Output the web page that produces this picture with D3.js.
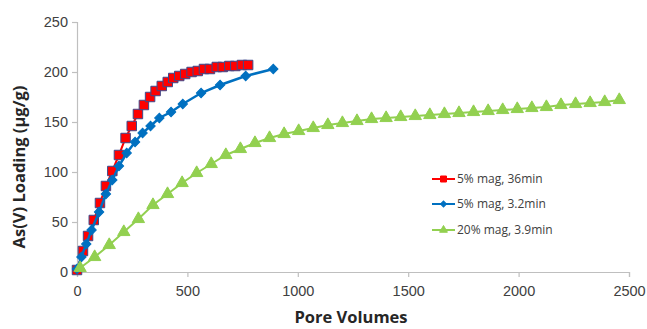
<!DOCTYPE html>
<html>
<head>
<meta charset="utf-8">
<script src="https://cdn.jsdelivr.net/npm/d3@7"></script>
<style>
  body { margin: 0; background: #fff; }
  svg { display: block; font-family: "Open Sans", sans-serif; }
</style>
</head>
<body>
<svg id="chart"></svg>
<script>
// data
var redX = [0, 27, 50, 76, 104, 131, 160, 190, 220, 248, 276, 303, 331, 356, 384, 411, 436, 463, 490, 519, 547, 575, 602, 633, 660, 690, 717, 747, 775];
var redY = [2, 21, 36, 52, 69, 86, 101, 117, 134, 146, 158, 167, 175, 181, 186, 190, 194, 196, 198, 200, 201, 203, 203, 205, 205, 206, 206, 207, 207];

var blueX = [0, 20, 42, 66, 100, 131, 160, 190, 225, 263, 297, 333, 373, 426, 479, 562, 648, 764, 889];
var blueY = [3, 15, 28, 42, 60, 78, 92, 106, 119, 130, 139, 146, 154, 160, 168, 179, 187, 196, 203];

var greenX = [14, 80, 146, 212, 278, 344, 410, 476, 542, 608, 674, 740, 806, 872, 938, 1004, 1070, 1136, 1202, 1268, 1334, 1400, 1466, 1532, 1598, 1664, 1730, 1796, 1862, 1928, 1994, 2060, 2126, 2192, 2258, 2324, 2390, 2456];
var greenY = [4, 15, 27, 40, 53, 67, 78, 89, 99, 108, 117, 123, 129, 134, 138, 141, 144, 147, 149, 151, 153, 154, 155, 156, 157, 158, 159, 160, 161, 162, 163, 164, 165, 167, 168, 169, 170, 172];

var seriesNames = ["5% mag, 36min", "5% mag, 3.2min", "20% mag, 3.9min"];
var xTicks = [0, 500, 1000, 1500, 2000, 2500];
var yTicks = [0, 50, 100, 150, 200, 250];

var width = 647,
    height = 329;

var svg = d3.select("#chart")
  .attr("width", width)
  .attr("height", height);

var x = d3.scaleLinear().domain([0, 2500]).range([77, 629]);
var y = d3.scaleLinear().domain([0, 250]).range([272, 22]);

// axes
var xAxis = svg.append("g")
  .attr("transform", "translate(0," + y(0) + ")")
  .call(d3.axisBottom(x).tickValues(xTicks).tickSize(5).tickPadding(6).tickFormat(d3.format("d")));

var yAxis = svg.append("g")
  .attr("transform", "translate(" + x(0) + ",0)")
  .call(d3.axisLeft(y).tickValues(yTicks).tickSize(5).tickPadding(4).tickFormat(d3.format("d")));

svg.selectAll(".domain, .tick line")
  .attr("stroke", "#bfbfbf")
  .attr("stroke-width", 1.2);

svg.selectAll(".tick text")
  .attr("fill", "#404040")
  .style("font-size", "14.5px");

xAxis.selectAll(".tick text").attr("dy", "0.9em");

// axis titles
svg.append("text")
  .attr("x", 351)
  .attr("y", 323)
  .attr("text-anchor", "middle")
  .style("font-size", "16.5px")
  .style("font-weight", "bold")
  .attr("fill", "#262626")
  .text("Pore Volumes");

svg.append("text")
  .attr("transform", "translate(25,167) rotate(-90)")
  .attr("text-anchor", "middle")
  .style("font-size", "16.5px")
  .style("font-weight", "bold")
  .attr("fill", "#262626")
  .text("As(V) Loading (\u03bcg/g)");

var series = [
  { name: seriesNames[0], xs: redX, ys: redY, color: "#ff0000", stroke: "#3c4a8c", shape: d3.symbolSquare, size: 90, rot: 0, lw: 2 },
  { name: seriesNames[1], xs: blueX, ys: blueY, color: "#0070c0", stroke: "#0070c0", shape: d3.symbolSquare, size: 44, rot: 45, lw: 2.5 },
  { name: seriesNames[2], xs: greenX, ys: greenY, color: "#92d050", stroke: "#92d050", shape: d3.symbolTriangle, size: 66, rot: 0, lw: 2 }
];

var line = d3.line()
  .x(function (d) { return x(d[0]); })
  .y(function (d) { return y(d[1]); });

// series in plotting order: red, blue, then green on top
series.forEach(function (s) {
  var pts = d3.zip(s.xs, s.ys);
  var g = svg.append("g");

  g.append("path")
    .attr("d", line(pts))
    .attr("fill", "none")
    .attr("stroke", s.color)
    .attr("stroke-width", s.lw);

  g.selectAll("path.mark")
    .data(pts)
    .enter()
    .append("path")
    .attr("class", "mark")
    .attr("d", d3.symbol().type(s.shape).size(s.size))
    .attr("transform", function (d) {
      return "translate(" + x(d[0]) + "," + y(d[1]) + ") rotate(" + s.rot + ")";
    })
    .attr("fill", s.color)
    .attr("stroke", s.stroke)
    .attr("stroke-width", 1);
});

// legend
var legendY = [179, 204, 230];
var legend = svg.append("g");

series.forEach(function (s, i) {
  var row = legend.append("g").attr("transform", "translate(0," + legendY[i] + ")");
  row.append("line")
    .attr("x1", 432)
    .attr("x2", 455)
    .attr("stroke", s.color)
    .attr("stroke-width", 2);
  row.append("path")
    .attr("d", d3.symbol().type(s.shape).size(s.size * 0.4))
    .attr("transform", "translate(443.5,0) rotate(" + s.rot + ")")
    .attr("fill", s.color)
    .attr("stroke", i === 0 ? s.color : s.stroke);
  row.append("text")
    .attr("x", 457)
    .attr("y", 4)
    .style("font-size", "12px")
    .attr("fill", "#404040")
    .text(s.name);
});
</script>
</body>
</html>
